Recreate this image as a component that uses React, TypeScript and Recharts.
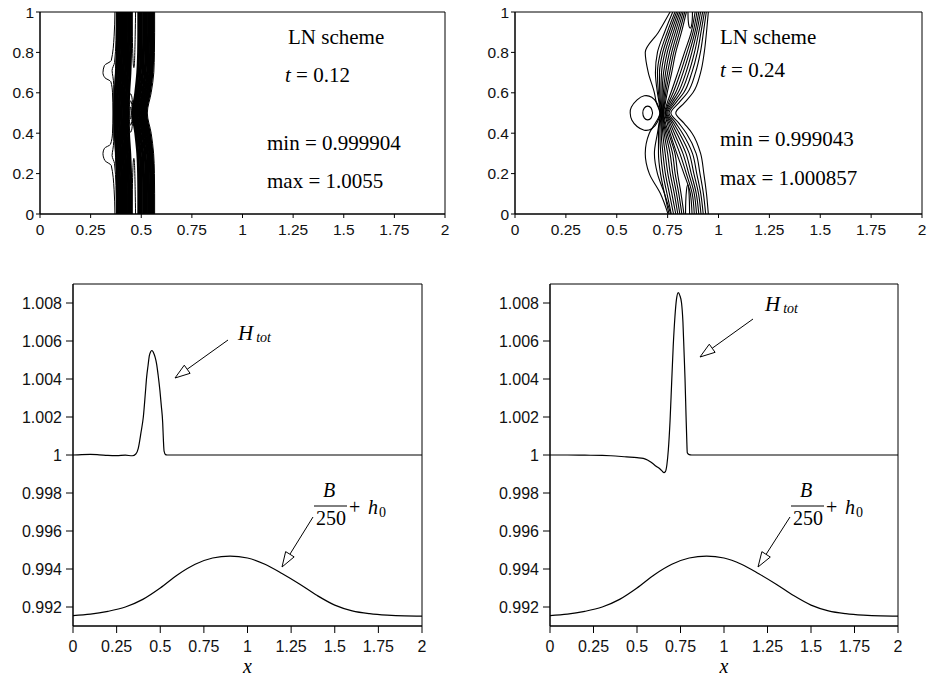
import { LineChart, Line, XAxis, YAxis, ReferenceArea } from "recharts";

// ---------- contour field, t = 0.12 ----------
const TL_LEVELS = [0, 0.1, 0.2, 0.3, 0.4, 0.5, 0.6, 0.7, 0.8, 0.9, 1];

// x position of each contour at TL_LEVELS (left dense band)
const tlLeftBand = [
  [0.383, 0.383, 0.382, 0.378, 0.372, 0.369, 0.372, 0.378, 0.382, 0.383, 0.384],
  [0.393, 0.394, 0.392, 0.388, 0.383, 0.38, 0.383, 0.389, 0.392, 0.394, 0.394],
  [0.404, 0.405, 0.403, 0.399, 0.394, 0.391, 0.394, 0.4, 0.403, 0.405, 0.405],
  [0.415, 0.416, 0.414, 0.41, 0.405, 0.402, 0.405, 0.411, 0.414, 0.416, 0.416],
  [0.427, 0.427, 0.425, 0.421, 0.416, 0.413, 0.416, 0.422, 0.425, 0.427, 0.427],
  [0.438, 0.438, 0.436, 0.432, 0.426, 0.424, 0.427, 0.433, 0.436, 0.438, 0.438],
  [0.45, 0.449, 0.447, 0.443, 0.437, 0.435, 0.438, 0.444, 0.447, 0.449, 0.45],
];

// right dense band, bowing left around y = 0.5
const tlRightBand = [
  [0.488, 0.488, 0.487, 0.483, 0.473, 0.46, 0.473, 0.483, 0.487, 0.488, 0.488],
  [0.5, 0.5, 0.499, 0.495, 0.484, 0.469, 0.484, 0.495, 0.499, 0.5, 0.5],
  [0.512, 0.512, 0.511, 0.507, 0.495, 0.479, 0.495, 0.507, 0.511, 0.512, 0.512],
  [0.524, 0.524, 0.523, 0.519, 0.507, 0.49, 0.507, 0.519, 0.523, 0.524, 0.524],
  [0.536, 0.536, 0.535, 0.531, 0.518, 0.501, 0.518, 0.531, 0.535, 0.536, 0.536],
  [0.547, 0.547, 0.546, 0.542, 0.529, 0.511, 0.529, 0.542, 0.546, 0.547, 0.547],
  [0.558, 0.558, 0.557, 0.553, 0.54, 0.522, 0.54, 0.553, 0.557, 0.558, 0.558],
];
const tlEdgeLine = [0.566, 0.566, 0.565, 0.561, 0.549, 0.53, 0.549, 0.562, 0.565, 0.566, 0.566];

// thin contours left of the bands, [x, y]
const tlThinLines = [
  [[0.37, 0], [0.366, 0.12], [0.352, 0.24], [0.32, 0.265], [0.311, 0.3], [0.318, 0.325], [0.348, 0.345], [0.358, 0.4], [0.36, 0.5], [0.358, 0.6], [0.35, 0.655], [0.32, 0.675], [0.311, 0.7], [0.318, 0.735], [0.352, 0.76], [0.366, 0.88], [0.37, 1]],
  [[0.377, 0], [0.375, 0.14], [0.368, 0.25], [0.356, 0.29], [0.36, 0.32], [0.364, 0.36], [0.364, 0.5], [0.364, 0.64], [0.36, 0.68], [0.356, 0.71], [0.368, 0.75], [0.375, 0.86], [0.377, 1]],
  [[0.38, 0], [0.38, 0.15], [0.373, 0.28], [0.369, 0.4], [0.367, 0.5], [0.369, 0.6], [0.373, 0.72], [0.38, 0.85], [0.38, 1]],
];

// tongues and closed loops between the bands
const tlLoops = [
  [[0.455, 1], [0.456, 0.88], [0.459, 0.77], [0.463, 0.725], [0.467, 0.76], [0.47, 0.88], [0.472, 1]],
  [[0.455, 0], [0.456, 0.12], [0.459, 0.23], [0.463, 0.275], [0.467, 0.24], [0.47, 0.12], [0.472, 0]],
  [[0.4515, 0.5], [0.4503, 0.521], [0.4475, 0.53], [0.4447, 0.521], [0.4435, 0.5], [0.4447, 0.479], [0.4475, 0.47], [0.4503, 0.479], [0.4515, 0.5]],
  [[0.4555, 0.5], [0.4532, 0.542], [0.4475, 0.56], [0.4418, 0.542], [0.4395, 0.5], [0.4418, 0.458], [0.4475, 0.44], [0.4532, 0.458], [0.4555, 0.5]],
  [[0.4585, 0.5], [0.4553, 0.567], [0.4475, 0.595], [0.4397, 0.567], [0.4365, 0.5], [0.4397, 0.433], [0.4475, 0.405], [0.4553, 0.433], [0.4585, 0.5]],
];

// ---------- contour field, t = 0.24 ----------
const TR_LEVELS = [0, 0.1, 0.2, 0.3, 0.4, 0.45, 0.5, 0.55, 0.6, 0.7, 0.8, 0.9, 1];

const trOuterLines = [
  [0.752, 0.715, 0.66, 0.64, 0.66, 0.69, 0.712, 0.695, 0.685, 0.655, 0.64, 0.705, 0.762],
  [0.765, 0.735, 0.7, 0.685, 0.7, 0.708, 0.714, 0.708, 0.7, 0.69, 0.7, 0.735, 0.775],
];

// contours passing through the focus, left group
const trLeftFan = [
  [0.757, 0.735, 0.715, 0.705, 0.705, 0.71, 0.716, 0.711, 0.705, 0.7, 0.715, 0.748, 0.786],
  [0.768, 0.747, 0.727, 0.716, 0.712, 0.714, 0.719, 0.715, 0.711, 0.71, 0.726, 0.758, 0.794],
  [0.779, 0.759, 0.739, 0.727, 0.719, 0.719, 0.721, 0.719, 0.717, 0.72, 0.737, 0.768, 0.802],
  [0.79, 0.771, 0.751, 0.738, 0.726, 0.723, 0.723, 0.723, 0.723, 0.73, 0.748, 0.778, 0.81],
  [0.8, 0.783, 0.763, 0.75, 0.733, 0.727, 0.725, 0.727, 0.729, 0.74, 0.759, 0.788, 0.818],
  [0.81, 0.794, 0.775, 0.762, 0.74, 0.731, 0.727, 0.731, 0.735, 0.75, 0.77, 0.798, 0.826],
  [0.82, 0.805, 0.787, 0.774, 0.747, 0.735, 0.729, 0.735, 0.741, 0.76, 0.78, 0.808, 0.834],
  [0.83, 0.816, 0.799, 0.786, 0.755, 0.74, 0.731, 0.739, 0.748, 0.77, 0.79, 0.818, 0.842],
];

// right group, folding into the chevron at y = 0.5
const trRightFan = [
  [0.87, 0.862, 0.83, 0.795, 0.762, 0.748, 0.736, 0.748, 0.766, 0.8, 0.833, 0.866, 0.885],
  [0.881, 0.871, 0.842, 0.81, 0.772, 0.755, 0.739, 0.755, 0.777, 0.813, 0.845, 0.875, 0.894],
  [0.892, 0.881, 0.854, 0.825, 0.783, 0.762, 0.742, 0.762, 0.789, 0.826, 0.857, 0.884, 0.903],
  [0.903, 0.891, 0.866, 0.84, 0.795, 0.77, 0.746, 0.77, 0.801, 0.84, 0.869, 0.893, 0.912],
  [0.914, 0.902, 0.879, 0.856, 0.808, 0.779, 0.751, 0.779, 0.814, 0.854, 0.882, 0.903, 0.922],
  [0.925, 0.913, 0.893, 0.872, 0.823, 0.79, 0.757, 0.79, 0.829, 0.869, 0.896, 0.914, 0.931],
  [0.937, 0.926, 0.909, 0.89, 0.842, 0.805, 0.766, 0.805, 0.847, 0.887, 0.911, 0.926, 0.94],
  [0.95, 0.941, 0.928, 0.912, 0.87, 0.83, 0.79, 0.832, 0.874, 0.912, 0.93, 0.941, 0.95],
];

const trLoops = [
  [[0.85, 1], [0.851, 0.96], [0.855, 0.93], [0.861, 0.92], [0.867, 0.93], [0.871, 0.96], [0.872, 1]],
  [[0.838, 0], [0.839, 0.06], [0.843, 0.12], [0.849, 0.145], [0.854, 0.12], [0.857, 0.06], [0.858, 0]],
  [[0.714, 0.5], [0.7, 0.545], [0.672, 0.578], [0.635, 0.585], [0.6, 0.565], [0.572, 0.53], [0.566, 0.5], [0.574, 0.465], [0.6, 0.433], [0.635, 0.415], [0.672, 0.422], [0.7, 0.455], [0.714, 0.5]],
  [[0.676, 0.5], [0.669, 0.524], [0.652, 0.534], [0.635, 0.524], [0.628, 0.5], [0.635, 0.476], [0.652, 0.466], [0.669, 0.476], [0.676, 0.5]],
];

// ---------- cross sections at y = 0.5 ----------
const htotX12 = [0, 0.05, 0.1, 0.15, 0.2, 0.25, 0.3, 0.34, 0.36, 0.374, 0.39, 0.403, 0.415, 0.422, 0.43, 0.437, 0.445, 0.451, 0.458, 0.465, 0.472, 0.479, 0.488, 0.498, 0.506, 0.514, 0.518, 0.522, 0.53, 0.54, 0.6, 1, 1.5, 2];
const htotY12 = [1, 1.00002, 1.00003, 1.00001, 0.99998, 0.99997, 0.99999, 0.99996, 1.00005, 1.00035, 1.0012, 1.002, 1.0033, 1.0041, 1.0047, 1.0052, 1.00543, 1.0055, 1.00545, 1.0053, 1.0051, 1.0048, 1.0042, 1.0034, 1.0026, 1.0017, 1.0008, 1.0002, 1.00002, 1, 1, 1, 1, 1];

const htotX24 = [0, 0.1, 0.2, 0.3, 0.35, 0.44, 0.5, 0.536, 0.56, 0.585, 0.61, 0.634, 0.648, 0.655, 0.663, 0.672, 0.68, 0.69, 0.699, 0.708, 0.718, 0.727, 0.737, 0.746, 0.756, 0.764, 0.77, 0.776, 0.782, 0.786, 0.789, 0.8, 0.814, 1, 1.5, 2];
const htotY24 = [1, 1, 0.99999, 0.99998, 0.99996, 0.9999, 0.99986, 0.99982, 0.99974, 0.99959, 0.99941, 0.99925, 0.99912, 0.99907, 0.99912, 0.9995, 1.00026, 1.0018, 1.00377, 1.0057, 1.00728, 1.0082, 1.00855, 1.0084, 1.008, 1.007, 1.00553, 1.004, 1.00202, 1.0008, 1.00012, 1.00002, 1, 1, 1, 1];

const bedX = [0, 0.1, 0.2, 0.3, 0.4, 0.5, 0.6, 0.7, 0.8, 0.9, 1, 1.1, 1.2, 1.3, 1.4, 1.5, 1.6, 1.7, 1.8, 1.9, 2];
const bedY = [0.99155, 0.99162, 0.99177, 0.992, 0.9924, 0.993, 0.9937, 0.99425, 0.99458, 0.99468, 0.99458, 0.99425, 0.99375, 0.9932, 0.9926, 0.9921, 0.9918, 0.99165, 0.99157, 0.99153, 0.99152];

const X_TICKS = [0, 0.25, 0.5, 0.75, 1, 1.25, 1.5, 1.75, 2];
const FIELD_Y_TICKS = [0, 0.2, 0.4, 0.6, 0.8, 1];
const PROFILE_Y_TICKS = [0.992, 0.994, 0.996, 0.998, 1, 1.002, 1.004, 1.006, 1.008];

type Pt = { x: number; y: number };
type Contour = { pts: Pt[]; width: number; curve: "monotoneY" | "natural" };

const sans = "'Liberation Sans', Arial, Helvetica, sans-serif";
const serif = "'Liberation Serif', 'Times New Roman', serif";

const atLevels = (xs: number[], levels: number[]): Pt[] => xs.map((x, i) => ({ x, y: levels[i] }));
const fromPairs = (pairs: number[][]): Pt[] => pairs.map(([x, y]) => ({ x, y }));
const zip = (xs: number[], ys: number[]): Pt[] => xs.map((x, i) => ({ x, y: ys[i] }));

const field12: Contour[] = [
  ...tlThinLines.map((p) => ({ pts: fromPairs(p), width: 1, curve: "monotoneY" as const })),
  ...tlLeftBand.map((xs) => ({ pts: atLevels(xs, TL_LEVELS), width: 3, curve: "monotoneY" as const })),
  ...tlRightBand.map((xs) => ({ pts: atLevels(xs, TL_LEVELS), width: 3, curve: "monotoneY" as const })),
  { pts: atLevels(tlEdgeLine, TL_LEVELS), width: 1, curve: "monotoneY" },
  ...tlLoops.map((p) => ({ pts: fromPairs(p), width: 1, curve: "natural" as const })),
];

const field24: Contour[] = [
  ...trOuterLines.map((xs) => ({ pts: atLevels(xs, TR_LEVELS), width: 1.1, curve: "monotoneY" as const })),
  ...trLeftFan.map((xs) => ({ pts: atLevels(xs, TR_LEVELS), width: 1.1, curve: "monotoneY" as const })),
  ...trRightFan.map((xs) => ({ pts: atLevels(xs, TR_LEVELS), width: 1.1, curve: "monotoneY" as const })),
  ...trLoops.map((p) => ({ pts: fromPairs(p), width: 1.1, curve: "natural" as const })),
];

function FieldPanel({ left, width, axisWidth, right, contours }: { left: number; width: number; axisWidth: number; right: number; contours: Contour[] }) {
  const tick = { fill: "#111", fontSize: 15.5, fontFamily: sans };
  return (
    <div style={{ position: "absolute", left, top: 0 }}>
      <LineChart width={width} height={240} margin={{ top: 12, right, bottom: 0, left: 0 }}>
        <XAxis type="number" dataKey="x" domain={[0, 2]} ticks={X_TICKS} interval={0} height={26} tickSize={4} tickMargin={6} stroke="#000" tick={tick} allowDataOverflow />
        <YAxis type="number" domain={[0, 1]} ticks={FIELD_Y_TICKS} interval={0} width={axisWidth} tickSize={4} tickMargin={2} stroke="#000" tick={tick} allowDataOverflow />
        <ReferenceArea x1={0} x2={2} y1={0} y2={1} fill="none" stroke="#000" strokeWidth={1} />
        {contours.map((c, i) => (
          <Line key={i} data={c.pts} dataKey="y" type={c.curve} stroke="#000" strokeWidth={c.width} dot={false} activeDot={false} isAnimationActive={false} />
        ))}
      </LineChart>
    </div>
  );
}

function ProfilePanel({ left, width, axisWidth, right, htot }: { left: number; width: number; axisWidth: number; right: number; htot: Pt[] }) {
  const tick = { fill: "#111", fontSize: 16, fontFamily: sans };
  return (
    <div style={{ position: "absolute", left, top: 250 }}>
      <LineChart width={width} height={426} margin={{ top: 34, right, bottom: 0, left: 0 }}>
        <XAxis type="number" dataKey="x" domain={[0, 2]} ticks={X_TICKS} interval={0} height={50} tickSize={7} tickMargin={8} stroke="#000" tick={tick} allowDataOverflow />
        <YAxis type="number" domain={[0.991, 1.009]} ticks={PROFILE_Y_TICKS} interval={0} width={axisWidth} tickSize={7} tickMargin={4} stroke="#000" tick={tick} allowDataOverflow />
        <ReferenceArea x1={0} x2={2} y1={0.991} y2={1.009} fill="none" stroke="#000" strokeWidth={1} />
        <Line data={htot} dataKey="y" type="monotone" stroke="#000" strokeWidth={1.2} dot={false} activeDot={false} isAnimationActive={false} />
        <Line data={zip(bedX, bedY)} dataKey="y" type="monotone" stroke="#000" strokeWidth={1.2} dot={false} activeDot={false} isAnimationActive={false} />
      </LineChart>
    </div>
  );
}

function Arrow({ from, to }: { from: [number, number]; to: [number, number] }) {
  const dx = to[0] - from[0];
  const dy = to[1] - from[1];
  const len = Math.hypot(dx, dy);
  const ux = dx / len;
  const uy = dy / len;
  const bx = to[0] - ux * 15;
  const by = to[1] - uy * 15;
  const nx = -uy * 5;
  const ny = ux * 5;
  return (
    <g>
      <line x1={from[0]} y1={from[1]} x2={bx} y2={by} stroke="#000" strokeWidth={1} />
      <polygon points={`${to[0]},${to[1]} ${bx + nx},${by + ny} ${bx - nx},${by - ny}`} fill="#fff" stroke="#000" strokeWidth={1} />
    </g>
  );
}

function HLabel({ x, y }: { x: number; y: number }) {
  return (
    <text x={x} y={y} fontFamily={serif} fontStyle="italic" fontSize={21}>
      H
      <tspan fontSize={14} dx={3} dy={2}>tot</tspan>
    </text>
  );
}

function BedLabel({ x, y }: { x: number; y: number }) {
  // x = left end of the fraction bar, y = bar height
  return (
    <g fontFamily={serif} fontSize={20}>
      <text x={x + 15} y={y - 9} textAnchor="middle" fontStyle="italic">B</text>
      <line x1={x} y1={y} x2={x + 33} y2={y} stroke="#000" strokeWidth={1} />
      <text x={x + 17} y={y + 19} textAnchor="middle">250</text>
      <text x={x + 35} y={y + 8}>+</text>
      <text x={x + 54} y={y + 8} fontStyle="italic">h</text>
      <text x={x + 65} y={y + 11} fontSize={14}>0</text>
    </g>
  );
}

function Notes() {
  return (
    <svg width={927} height={676} style={{ position: "absolute", left: 0, top: 0, pointerEvents: "none" }}>
      <g fontFamily={serif} fontSize={21} fill="#000">
        <text x={288} y={44}>LN scheme</text>
        <text x={285} y={82}><tspan fontStyle="italic">t</tspan> = 0.12</text>
        <text x={267} y={150}>min = 0.999904</text>
        <text x={267} y={188}>max = 1.0055</text>

        <text x={720} y={44}>LN scheme</text>
        <text x={720} y={77}><tspan fontStyle="italic">t</tspan> = 0.24</text>
        <text x={720} y={146}>min = 0.999043</text>
        <text x={720} y={185}>max = 1.000857</text>
      </g>

      <HLabel x={238} y={340} />
      <Arrow from={[228, 340]} to={[175, 378]} />
      <BedLabel x={314} y={506} />
      <Arrow from={[313, 517]} to={[282, 567]} />

      <HLabel x={765} y={311} />
      <Arrow from={[753, 319]} to={[700, 357]} />
      <BedLabel x={791} y={506} />
      <Arrow from={[790, 517]} to={[758, 567]} />

      <g fontFamily={serif} fontStyle="italic" fontSize={20}>
        <text x={247.5} y={673} textAnchor="middle">x</text>
        <text x={724} y={673} textAnchor="middle">x</text>
      </g>
    </svg>
  );
}

export default function App() {
  return (
    <div style={{ position: "absolute", left: 0, top: 0, width: 927, height: 676, background: "#fff" }}>
      <FieldPanel left={0} width={460} axisWidth={40} right={15} contours={field12} />
      <FieldPanel left={460} width={467} axisWidth={55} right={5} contours={field24} />
      <ProfilePanel left={0} width={460} axisWidth={73} right={38} htot={zip(htotX12, htotY12)} />
      <ProfilePanel left={460} width={467} axisWidth={90} right={29} htot={zip(htotX24, htotY24)} />
      <Notes />
    </div>
  );
}
